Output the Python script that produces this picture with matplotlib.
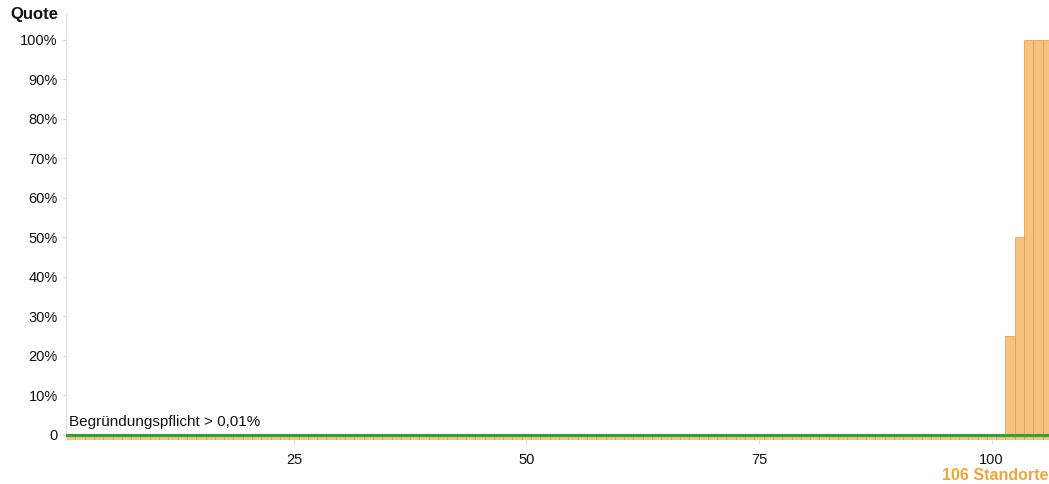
import matplotlib
matplotlib.use("Agg")
import matplotlib.pyplot as plt
import numpy as np

plt.rcParams['font.family'] = ['Liberation Sans', 'DejaVu Sans']

# Data
n_sites = 106
site_idx = list(range(1, n_sites + 1))
quote = [0.0] * 101 + [25.0, 50.0, 100.0, 100.0, 100.0]
threshold = 0.01
y_ticks = [0, 10, 20, 30, 40, 50, 60, 70, 80, 90, 100]
y_labels = ['0'] + [f'{v}%' for v in y_ticks[1:]]
x_ticks = [25, 50, 75, 100]

fig = plt.figure(figsize=(10.49, 4.84), dpi=100)
ax = fig.add_axes([66/1049, 44/484, (1052-66)/1049, (440-14)/484])

base = -1.2
heights = [q - base for q in quote]
ax.bar(site_idx, heights, bottom=base, width=1.0, color='#F6C37E',
       edgecolor='#E2A25A', linewidth=0.6, zorder=2)
ax.axhline(threshold, color='#2FA33A', linewidth=2.2, zorder=3)
ax.text(0.85, 1.5, 'Begründungspflicht > 0,01%', fontsize=11, color='#111111',
        ha='left', va='bottom', zorder=4)

ax.set_xlim(0.5, n_sites + 0.5)
ax.set_ylim(-1.3, 106.5)
ax.set_yticks(y_ticks)
ax.set_yticklabels(y_labels)
ax.set_xticks(x_ticks)
ax.tick_params(axis='y', length=3, color='#dddddd', labelsize=10.5, pad=3, labelcolor='#111111')
ax.tick_params(axis='x', length=3, color='#dddddd', labelsize=10.5, pad=6, labelcolor='#111111')
for s in ['top', 'right', 'bottom']:
    ax.spines[s].set_visible(False)
ax.spines['left'].set_color('#e0e0e0')

fig.text(58/1049, 1 - 14/484, 'Quote', fontsize=12, fontweight='bold',
         ha='right', va='center', color='#111111')
fig.text(1048/1049, 1 - 475/484, '106 Standorte', fontsize=11.5, fontweight='bold',
         ha='right', va='center', color='#F2A43A')

fig.savefig('out.png', dpi=100)
